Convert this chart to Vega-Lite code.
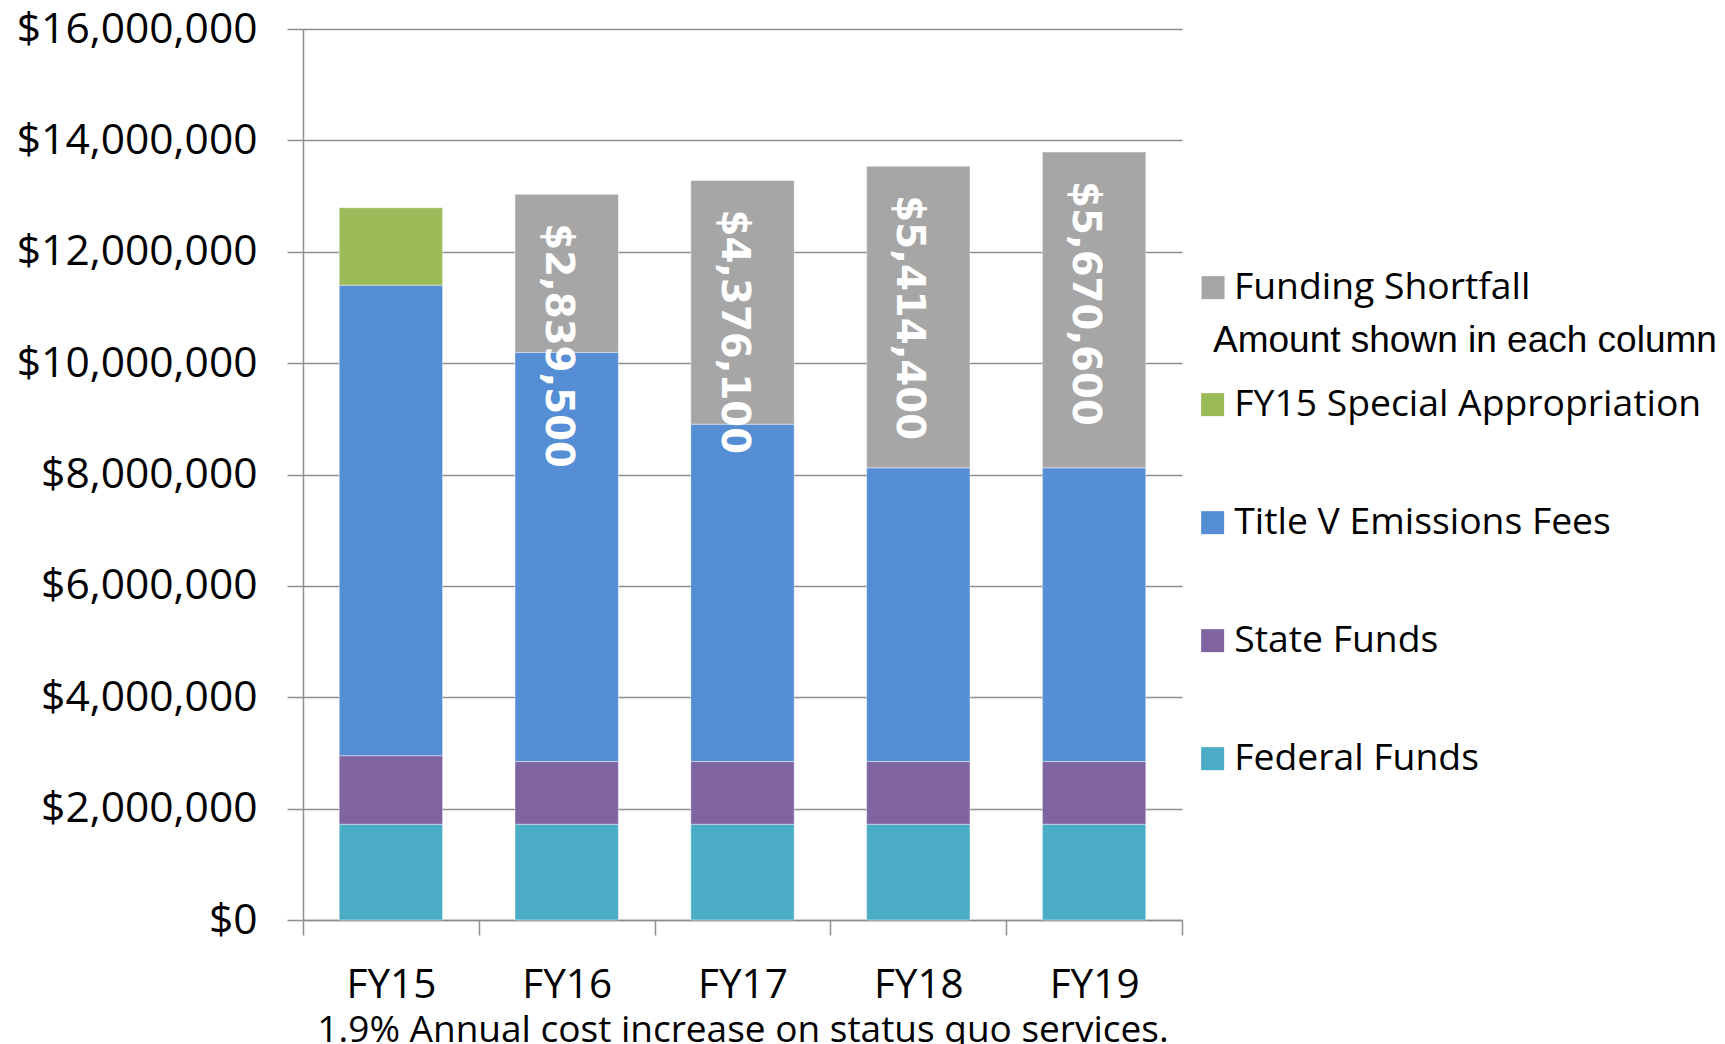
{
  "$schema": "https://vega.github.io/schema/vega-lite/v6.json",
  "width": 879,
  "height": 891,
  "autosize": {"type": "none"},
  "padding": {"left": 303, "top": 29, "right": 543, "bottom": 124},
  "background": "white",
  "config": {"view": {"stroke": null}},
  "data": {
    "values": [
      {"year": "FY15", "series": "Federal Funds", "order": 1, "amount": 1720000},
      {"year": "FY15", "series": "State Funds", "order": 2, "amount": 1230000},
      {"year": "FY15", "series": "Title V Emissions Fees", "order": 3, "amount": 8450000},
      {"year": "FY15", "series": "FY15 Special Appropriation", "order": 4, "amount": 1390000},
      {"year": "FY16", "series": "Federal Funds", "order": 1, "amount": 1720000},
      {"year": "FY16", "series": "State Funds", "order": 2, "amount": 1125000},
      {"year": "FY16", "series": "Title V Emissions Fees", "order": 3, "amount": 7348500},
      {"year": "FY16", "series": "Funding Shortfall", "order": 5, "amount": 2839500},
      {"year": "FY17", "series": "Federal Funds", "order": 1, "amount": 1720000},
      {"year": "FY17", "series": "State Funds", "order": 2, "amount": 1125000},
      {"year": "FY17", "series": "Title V Emissions Fees", "order": 3, "amount": 6059000},
      {"year": "FY17", "series": "Funding Shortfall", "order": 5, "amount": 4376100},
      {"year": "FY18", "series": "Federal Funds", "order": 1, "amount": 1720000},
      {"year": "FY18", "series": "State Funds", "order": 2, "amount": 1125000},
      {"year": "FY18", "series": "Title V Emissions Fees", "order": 3, "amount": 5274000},
      {"year": "FY18", "series": "Funding Shortfall", "order": 5, "amount": 5414400},
      {"year": "FY19", "series": "Federal Funds", "order": 1, "amount": 1720000},
      {"year": "FY19", "series": "State Funds", "order": 2, "amount": 1125000},
      {"year": "FY19", "series": "Title V Emissions Fees", "order": 3, "amount": 5274000},
      {"year": "FY19", "series": "Funding Shortfall", "order": 5, "amount": 5670600}
    ]
  },
  "transform": [
    {"stack": "amount", "groupby": ["year"], "sort": [{"field": "order", "order": "ascending"}], "as": ["y0", "y1"]}
  ],
  "encoding": {
    "x": {
      "field": "year",
      "type": "nominal",
      "scale": {"paddingInner": 0, "paddingOuter": 0},
      "axis": {
        "title": "1.9% Annual cost increase on status quo services.",
        "titleFont": "Open Sans",
        "titleFontSize": 37,
        "titleFontWeight": "normal",
        "titleColor": "black",
        "titlePadding": 7,
        "labelAngle": 0,
        "labelFont": "Open Sans",
        "labelFontSize": 40.5,
        "labelColor": "black",
        "labelPadding": 30,
        "tickSize": 15,
        "tickBand": "extent",
        "tickColor": "#8E8E8E",
        "tickWidth": 1.5,
        "domainColor": "#8E8E8E",
        "domainWidth": 1.5,
        "grid": false
      }
    },
    "y": {
      "field": "y1",
      "type": "quantitative",
      "scale": {"domain": [0, 16000000], "nice": false},
      "axis": {
        "title": null,
        "values": [0, 2000000, 4000000, 6000000, 8000000, 10000000, 12000000, 14000000, 16000000],
        "format": "$,.0f",
        "labelFont": "Open Sans",
        "labelFontSize": 42.5,
        "labelColor": "black",
        "labelPadding": 30,
        "labelLimit": 400,
        "tickSize": 16,
        "tickColor": "#8E8E8E",
        "tickWidth": 1.5,
        "domainColor": "#8E8E8E",
        "domainWidth": 1.5,
        "grid": true,
        "gridColor": "#8E8E8E",
        "gridWidth": 1.5
      }
    }
  },
  "layer": [
    {
      "transform": [{"filter": "datum.series != 'Funding Shortfall'"}],
      "mark": {"type": "bar", "width": {"band": 0.588}, "stroke": "white", "strokeWidth": 0.7, "strokeOpacity": 0.6},
      "encoding": {
        "y2": {"field": "y0"},
        "color": {
          "field": "series",
          "type": "nominal",
          "scale": {
            "domain": ["FY15 Special Appropriation", "Title V Emissions Fees", "State Funds", "Federal Funds"],
            "range": ["#9BBB59", "#558ED5", "#8064A2", "#4BACC6"]
          },
          "legend": {
            "title": null,
            "orient": "none",
            "legendX": 891,
            "legendY": 357,
            "padding": 0,
            "rowPadding": 80,
            "symbolType": "square",
            "symbolSize": 529,
            "symbolStrokeWidth": 0,
            "labelOffset": 3,
            "labelFont": "Open Sans",
            "labelFontSize": 37.3,
            "labelColor": "black",
            "labelLimit": 700
          }
        }
      }
    },
    {
      "transform": [{"filter": "datum.series == 'Funding Shortfall'"}],
      "mark": {"type": "bar", "width": {"band": 0.588}, "stroke": "white", "strokeWidth": 0.7, "strokeOpacity": 0.6},
      "encoding": {
        "y2": {"field": "y0"},
        "color": {
          "field": "series",
          "type": "nominal",
          "scale": {"domain": ["Funding Shortfall"], "range": ["#A6A6A6"]},
          "legend": {
            "title": "Amount shown in each column",
            "titleOrient": "bottom",
            "titleAnchor": "start",
            "titleFont": "Liberation Sans",
            "titleFontSize": 37,
            "titleFontWeight": "normal",
            "titleColor": "black",
            "titlePadding": 17,
            "titleLimit": 800,
            "orient": "none",
            "legendX": 910,
            "legendY": 240,
            "padding": 0,
            "symbolType": "square",
            "symbolSize": 529,
            "symbolStrokeWidth": 0,
            "symbolOffset": -18.6,
            "labelOffset": 2.2,
            "labelFont": "Open Sans",
            "labelFontSize": 37.3,
            "labelColor": "black",
            "labelLimit": 700
          }
        }
      }
    },
    {
      "transform": [{"filter": "datum.series == 'Funding Shortfall'"}],
      "mark": {
        "type": "text",
        "angle": 90,
        "align": "left",
        "baseline": "middle",
        "dx": 29,
        "dy": 9,
        "font": "DejaVu Sans",
        "fontWeight": "bold",
        "fontSize": 38.7,
        "color": "white"
      },
      "encoding": {
        "text": {"field": "amount", "type": "quantitative", "format": "$,.0f"}
      }
    }
  ],
  "resolve": {"scale": {"color": "independent"}, "legend": {"color": "independent"}}
}
